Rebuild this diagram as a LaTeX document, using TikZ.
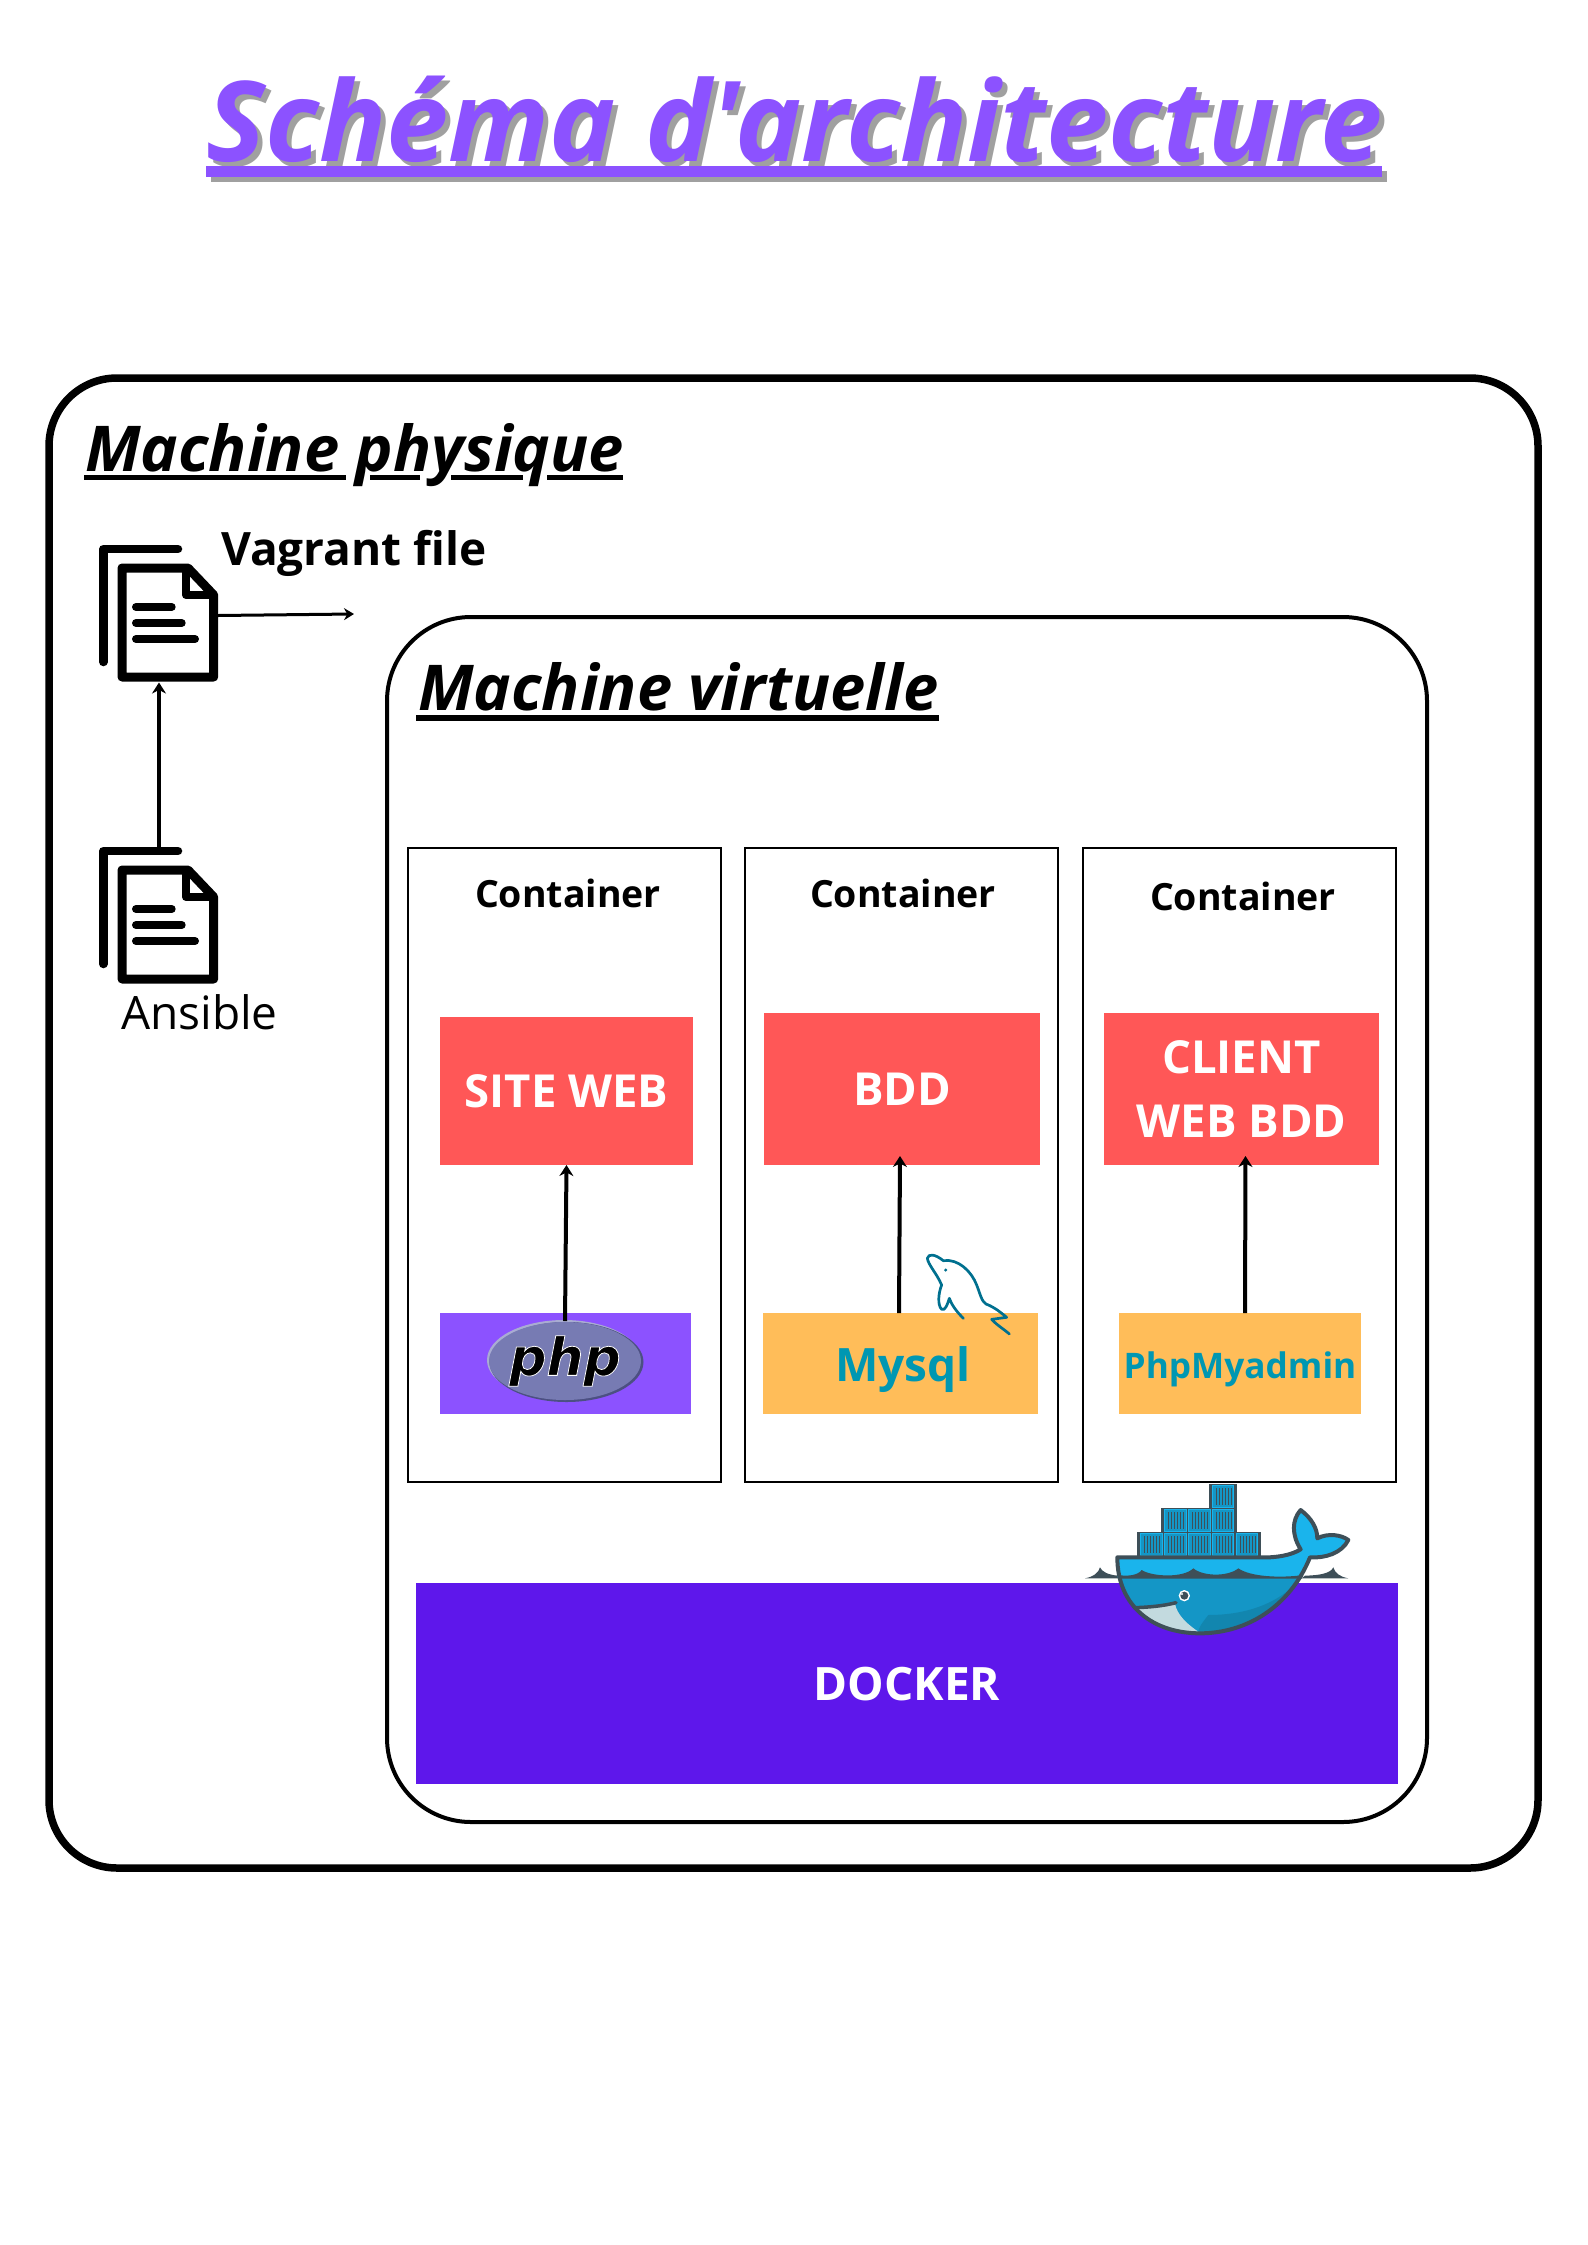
\documentclass[tikz,border=0pt]{standalone}
\usepackage{fontspec}
\setmainfont{Open Sans}[Ligatures=TeXOff]
\newfontfamily\phpfont[FakeBold=1.5]{DejaVu Sans}
\usepackage{xcolor}
\usetikzlibrary{shapes.geometric,arrows.meta,positioning,calc}

\definecolor{titlepurple}{HTML}{8C52FF}
\definecolor{titlegrey}{HTML}{A0A0A0}
\definecolor{boxred}{HTML}{FF5757}
\definecolor{boxorange}{HTML}{FFBD59}
\definecolor{boxviolet}{HTML}{5E17EB}
\definecolor{labelteal}{HTML}{0097B2}
\definecolor{whaledark}{HTML}{3E4F58}
\definecolor{whalelight}{HTML}{1AB4EC}
\definecolor{whalemid}{HTML}{1496C6}
\definecolor{whaledeep}{HTML}{1286AF}
\definecolor{whalebelly}{HTML}{C3DADF}
\definecolor{dolphin}{HTML}{00708F}
\definecolor{phpblue}{HTML}{777BB3}
\definecolor{phpedge}{HTML}{4C5082}
\definecolor{phplight}{HTML}{A9ACD2}

\tikzset{
    docicon/.pic={
        \draw[line width=8.5, line cap=round, line join=round] (-55.7,46.5) -- (-55.7,-66.5) -- (19,-66.5);
        \draw[line width=9, line join=round] (-37,-47.5) -- (29,-47.5) -- (54.7,-20.5) -- (54.7,61.5) -- (-37,61.5) -- cycle;
        \draw[line width=8, line join=round] (27,-47.5) -- (27,-20.5) -- (54.7,-20.5);
        \draw[line width=8, line cap=round] (-23,-8.5) -- (12.7,-8.5);
        \draw[line width=8, line cap=round] (-23,7.5) -- (22.7,7.5);
        \draw[line width=8, line cap=round] (-23,23.5) -- (36,23.5);
    }
}

\begin{document}
\begin{tikzpicture}[
    x=1pt, y=-1pt,
    outerbox/.style={rectangle, draw, line width=7.5, rounded corners=68, minimum width=1489, minimum height=1490, outer sep=0},
    vm/.style={rectangle, draw, line width=4, rounded corners=84, minimum width=1040, minimum height=1205, outer sep=0},
    cont/.style={rectangle, draw, line width=2.7, minimum width=313, minimum height=634, outer sep=0},
    service/.style={rectangle, fill=boxred, text=white, align=center, outer sep=0, font=\fontsize{45.5}{64}\selectfont\bfseries},
    plainbox/.style={rectangle, outer sep=0, inner sep=0, font=\bfseries},
    contlabel/.style={anchor=base, inner sep=0, font=\fontsize{37.5}{37.5}\selectfont\bfseries},
    heading/.style={anchor=base west, inner sep=0, font=\fontsize{63.2}{63.2}\selectfont\bfseries\itshape},
    doc/.style={rectangle, minimum width=118, minimum height=134, inner sep=0, outer sep=0},
    arrow/.style={-{Stealth[length=11,width=14]}, line width=4},
    thinarrow/.style={-{Stealth[length=10,width=12]}, line width=3}
]
\useasboundingbox (0,0) rectangle (1587,2245);

% Title with its shadow
\fill[titlegrey] (211,171) rectangle (1387,182);
\node[anchor=base west, inner sep=0, text=titlegrey, font=\fontsize{111.6}{111.6}\selectfont\bfseries\itshape] (titleshadow) at (211,167) {Schéma d'architecture};
\node[anchor=base west, inner sep=0, text=titlepurple, font=\fontsize{111.6}{111.6}\selectfont\bfseries\itshape] (title) at (206,162) {Schéma d'architecture};
\fill[titlepurple] (206,166) rectangle (1382,177);

% Machines
\node[outerbox] (physique) at (793.5,1123) {};
\node[vm] (virtuelle) at (907,1219.5) {};
\node[heading] (physiquelabel) at (85,471) {Machine physique};
\node[heading] (virtuellelabel) at (418,710) {Machine virtuelle};
\foreach \ulfrom/\ulto in {83.5/346.4, 370/419.6, 451/522.7, 547/623} {
    \fill (\ulfrom,474.5) rectangle (\ulto,480);
}
\draw[line width=6] ([xshift=-2,yshift=-7.5]virtuellelabel.base west) -- ([yshift=-7.5]virtuellelabel.base east);

% Files on the physical machine
\node[doc] (vagrantdoc) at (159,615.5) {};
\node[doc] (ansibledoc) at (159,917.5) {};
\pic at (vagrantdoc.center) {docicon};
\pic at (ansibledoc.center) {docicon};
\node[anchor=base west, inner sep=0, font=\fontsize{46}{46}\selectfont\bfseries] (vagrantlabel) at (221,565) {Vagrant file};
\node[anchor=base west, inner sep=0, font=\fontsize{46}{46}\selectfont] (ansiblelabel) at (121,1029) {Ansible};
\coordinate (vmentry) at (354,614);
\draw[thinarrow] (vagrantdoc.east) -- (vmentry);
\draw[arrow] (ansibledoc.north) -- (vagrantdoc.south);

% Containers
\node[cont] (c1) at (564.5,1165) {};
\node[cont, right=24pt of c1] (c2) {};
\node[cont, right=25pt of c2] (c3) {};
\node[contlabel] (c1label) at (568,907) {Container};
\node[contlabel] (c2label) at (903,907) {Container};
\node[contlabel] (c3label) at (1243,910) {Container};

% Services
\node[service, minimum width=253, minimum height=148] (site) at (566.5,1091) {SITE WEB};
\node[service, minimum width=276, minimum height=152] (bdd) at (902,1089) {BDD};
\node[service, minimum width=275, minimum height=152] (client) at (1241.5,1089) {CLIENT\\WEB BDD};
\node[plainbox, fill=titlepurple, minimum width=251, minimum height=101] (phpbox) at (565.5,1363.5) {};
\node[plainbox, fill=boxorange, text=labelteal, minimum width=275, minimum height=101, font=\fontsize{46}{46}\selectfont\bfseries] (mysql) at (900.5,1363.5) {\raisebox{-17.5pt}[0pt][0pt]{\hspace{5pt}Mysql}};
\node[plainbox, fill=boxorange, text=labelteal, minimum width=242, minimum height=101, font=\fontsize{35.2}{35.2}\selectfont\bfseries] (pma) at (1240,1363.5) {\raisebox{-14.5pt}[0pt][0pt]{PhpMyadmin}};
\fill[phplight] (564,1360) ellipse [x radius=77, y radius=40];
\fill[phpedge] (566.5,1362) ellipse [x radius=77, y radius=40];
\node[ellipse, fill=phpblue, minimum width=152, minimum height=78, outer sep=0, inner sep=0] (phplogo) at (565,1361) {};
\node[inner sep=0, font=\fontsize{52}{52}\selectfont\phpfont\bfseries\itshape] (phptext) at (565,1361) {\special{pdf:code 1 1 1 RG}php};

% Docker
\node[plainbox, fill=boxviolet, minimum width=982, minimum height=201] (docker) at (907,1683.5) {};
\node[anchor=base, inner sep=0, text=white, font=\fontsize{46}{46}\selectfont\bfseries] (dockerlabel) at (907,1700) {DOCKER};

% Arrows between services
\draw[arrow] ([yshift=1]phplogo.north) -- (site.south);
\draw[arrow] ([xshift=-1.5]mysql.north) -- ([xshift=-2,yshift=9]bdd.south);
\draw[arrow] ([xshift=5]pma.north) -- ([xshift=4,yshift=9]client.south);

% Dolphin
\begin{scope}[shift={(900,1230)}, x=0.3333pt, y=-0.3333pt]
\draw[dolphin, line width=2.7, line join=round, line cap=round] (190,265) .. controls (170,245) and (155,225) .. (148,205) .. controls (142,225) and (135,243) .. (125,238) .. controls (112,225) and (115,190) .. (125,165) .. controls (110,130) and (85,105) .. (82,85) .. controls (85,70) and (105,72) .. (130,92) .. controls (175,85) and (215,125) .. (230,165) .. controls (240,190) and (245,215) .. (258,222) .. controls (285,232) and (305,250) .. (320,262) -- (275,268) .. controls (290,285) and (315,300) .. (328,312);
\fill[dolphin] (137,120) circle (5);
\end{scope}

% Whale
\begin{scope}[shift={(1060,1460)}, x=0.3333pt, y=-0.3333pt]
\fill[whaledark] (75,355) .. controls (100,350) and (115,340) .. (120,322) .. controls (125,335) and (145,345) .. (175,347) -- (175,355) -- cycle;
\fill[whaledark] (865,355) .. controls (840,350) and (825,340) .. (820,322) .. controls (812,340) and (780,346) .. (735,347) -- (725,355) -- cycle;
% containers
\fill[whaledark] (447,72) rectangle (532,150);
\fill[whaledark] (303,145) rectangle (532,222);
\fill[whaledark] (232,215) rectangle (604,296);
\foreach \cx/\cy in {490/109, 346/181, 418/181, 490/181, 274/253, 346/253, 418/253, 490/253, 562/253} {
    \fill[whalemid] (\cx-32,\cy-32) rectangle (\cx+32,\cy+32);
    \draw[whalelight, line width=1] (\cx-32,\cy-32) rectangle (\cx+32,\cy+32);
    \foreach \st in {-22,-13,-4,5,14,23} {
        \draw[whaledark, line width=0.8] (\cx+\st,\cy-25) -- (\cx+\st,\cy+25);
    }
}
% body
\fill[whalemid] (172,292) -- (600,292) .. controls (650,294) and (695,285) .. (722,268) .. controls (695,225) and (695,180) .. (722,150) .. controls (755,175) and (772,205) .. (772,235) .. controls (805,218) and (845,225) .. (865,240) .. controls (845,280) and (795,295) .. (750,292) .. controls (690,440) and (560,520) .. (420,520) .. controls (280,520) and (172,440) .. (172,292) -- cycle;
\fill[whaledeep] (725,352) .. controls (660,430) and (560,465) .. (445,465) .. controls (425,490) and (415,505) .. (415,515) .. controls (560,520) and (660,450) .. (725,352) -- cycle;
\fill[whalebelly] (222,445) .. controls (265,442) and (310,438) .. (345,430) .. controls (350,465) and (385,495) .. (415,515) .. controls (330,515) and (265,495) .. (222,445) -- cycle;
\fill[whalelight] (172,292) -- (600,292) .. controls (650,294) and (695,285) .. (722,268) .. controls (695,225) and (695,180) .. (722,150) .. controls (755,175) and (772,205) .. (772,235) .. controls (805,218) and (845,225) .. (865,240) .. controls (845,280) and (795,295) .. (750,292) -- (725,352) -- (172,352) -- cycle;
\fill[whaledark] (175,345) .. controls (205,350) and (235,345) .. (245,330) .. controls (275,350) and (370,355) .. (400,325) .. controls (430,350) and (505,350) .. (535,325) .. controls (570,350) and (660,355) .. (730,345) -- (725,356) -- (175,356) -- cycle;
\draw[whaledark, line width=4, line join=round] (172,292) -- (600,292) .. controls (650,294) and (695,285) .. (722,268) .. controls (695,225) and (695,180) .. (722,150) .. controls (755,175) and (772,205) .. (772,235) .. controls (805,218) and (845,225) .. (865,240) .. controls (845,280) and (795,295) .. (750,292) .. controls (690,440) and (560,520) .. (420,520) .. controls (280,520) and (172,440) .. (172,292) -- cycle;
\draw[whaledark, line width=3.5, line cap=round] (222,443) .. controls (265,442) and (310,438) .. (348,428);
\fill[white] (373,407) circle (17);
\fill[whaledark] (373,407) circle (12);
\fill[white] (366,402) circle (3.5);
\end{scope}

\end{tikzpicture}
\end{document}
